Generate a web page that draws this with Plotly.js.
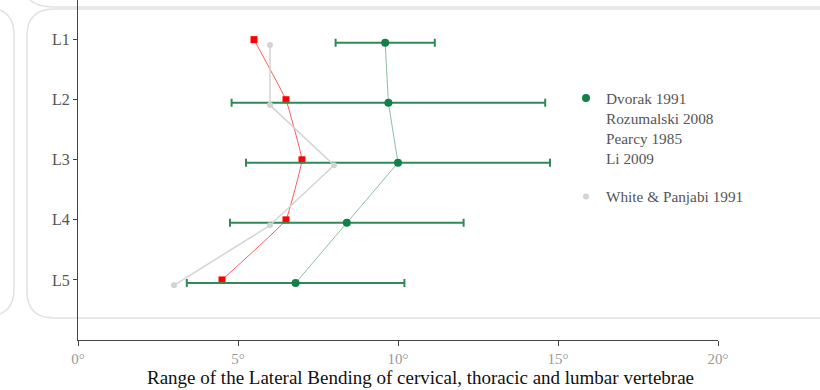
<!DOCTYPE html>
<html>
<head>
<meta charset="utf-8">
<script src="https://cdn.plot.ly/plotly-3.0.1.min.js"></script>
<style>
  html, body { margin: 0; padding: 0; background: #fff; }
  #chart { width: 820px; height: 390px; }
</style>
</head>
<body>
<div id="chart"></div>
<script>
// ---- data ----
const levels = ['L1', 'L2', 'L3', 'L4', 'L5'];
const dvorakStudies = ['Dvorak 1991', 'Rozumalski 2008', 'Pearcy 1985', 'Li 2009'];
const dvorakMean = [9.6, 9.7, 10.0, 8.4, 6.8];
const dvorakSD = [1.55, 4.9, 4.75, 3.65, 3.4];
const redSeries = [5.5, 6.5, 7.0, 6.5, 4.5];
const whitePanjabi = [6.0, 6.0, 8.0, 6.0, 3.0];
const xTickValues = [0, 5, 10, 15, 20];
const xTickLabels = ['0\u00B0', '5\u00B0', '10\u00B0', '15\u00B0', '20\u00B0'];

// ---- layout helpers ----
const FONT = '"Liberation Serif", "Times New Roman", serif';
const ML = 78, PW = 640, PH = 340;
function px(x) { return (x - ML) / PW; }
function py(y) { return (PH - y) / PH; }
function roundRect(x0, y0, x1, y1, r) {
  const p = (x, y) => px(x).toFixed(4) + ',' + py(y).toFixed(4);
  return 'M' + p(x0 + r, y0) + ' L' + p(x1 - r, y0) + ' Q' + p(x1, y0) + ' ' + p(x1, y0 + r) +
    ' L' + p(x1, y1 - r) + ' Q' + p(x1, y1) + ' ' + p(x1 - r, y1) +
    ' L' + p(x0 + r, y1) + ' Q' + p(x0, y1) + ' ' + p(x0, y1 - r) +
    ' L' + p(x0, y0 + r) + ' Q' + p(x0, y0) + ' ' + p(x0 + r, y0) + ' Z';
}
const levelPos = (offset) => levels.map((_, i) => i + 1 + offset);

const traces = [
  {
    type: 'scatter', mode: 'lines', x: redSeries, y: levelPos(0),
    line: { color: 'rgba(255,0,0,0.65)', width: 1, shape: 'spline', smoothing: 0.2 },
    showlegend: false, hoverinfo: 'skip'
  },
  {
    type: 'scatter', mode: 'markers', x: redSeries, y: levelPos(0),
    marker: { color: '#ff0000', size: 7, symbol: 'square' },
    showlegend: false, name: 'red'
  },
  {
    type: 'scatter', mode: 'lines', x: dvorakMean, y: levelPos(0.05),
    line: { color: 'rgba(46,139,87,0.55)', width: 1 },
    showlegend: false, hoverinfo: 'skip'
  },
  {
    type: 'scatter', mode: 'markers', name: dvorakStudies.join('<br>'),
    x: dvorakMean, y: levelPos(0.05),
    error_x: { type: 'data', array: dvorakSD, visible: true, color: '#2e8b57', thickness: 2, width: 4 },
    marker: { color: '#13804a', size: 8 },
    legendgroup: 'a'
  },
  {
    type: 'scatter', mode: 'lines', x: whitePanjabi, y: levelPos(0.09),
    line: { color: '#d3d3d3', width: 1.5 }, showlegend: false, hoverinfo: 'skip'
  },
  {
    type: 'scatter', mode: 'markers', name: 'White & Panjabi 1991',
    x: whitePanjabi, y: levelPos(0.09),
    marker: { color: '#d3d3d3', size: 6 }, legendgroup: 'b'
  }
];

const cardLine = { color: '#e2e2e2', width: 1.5 };
const layout = {
  width: 820, height: 390,
  margin: { l: ML, r: 820 - ML - PW, t: 0, b: 390 - PH },
  paper_bgcolor: '#ffffff', plot_bgcolor: 'rgba(0,0,0,0)',
  font: { family: FONT, size: 15, color: '#666' },
  showlegend: true,
  legend: {
    x: px(566), y: py(81.5), xanchor: 'left', yanchor: 'top', valign: 'top',
    font: { family: FONT, size: 15.3, color: '#555' },
    traceorder: 'grouped', tracegroupgap: 16, bgcolor: 'rgba(0,0,0,0)'
  },
  xaxis: {
    range: [0, 20], tickvals: xTickValues, ticktext: xTickLabels,
    showgrid: false, zeroline: false, showline: true, linecolor: '#444', linewidth: 1,
    ticks: 'outside', ticklen: 5, tickcolor: '#444',
    tickfont: { family: FONT, size: 15, color: '#999' }
  },
  yaxis: {
    range: [6.0, 0.34], tickvals: levelPos(0), ticktext: levels,
    showgrid: false, zeroline: false, showline: true, linecolor: '#444', linewidth: 1,
    ticks: 'outside', ticklen: 4, tickcolor: '#444',
    tickfont: { family: FONT, size: 16, color: '#555' }
  },
  annotations: [{
    text: 'Range of the Lateral Bending of cervical, thoracic and lumbar vertebrae',
    xref: 'paper', yref: 'paper', x: px(420), y: py(377),
    xanchor: 'center', yanchor: 'middle', showarrow: false,
    font: { family: FONT, size: 19, color: '#111' }
  }],
  shapes: [
    { type: 'path', xref: 'paper', yref: 'paper', layer: 'below', path: roundRect(27, 9, 1000, 318, 27), line: cardLine },
    { type: 'path', xref: 'paper', yref: 'paper', layer: 'below', path: roundRect(-300, 8, 14, 316, 27), line: cardLine },
    { type: 'path', xref: 'paper', yref: 'paper', layer: 'below', path: roundRect(21, -300, 1000, 7, 32), line: cardLine }
  ]
};

Plotly.newPlot('chart', traces, layout, { displayModeBar: false, staticPlot: true });
</script>
</body>
</html>
